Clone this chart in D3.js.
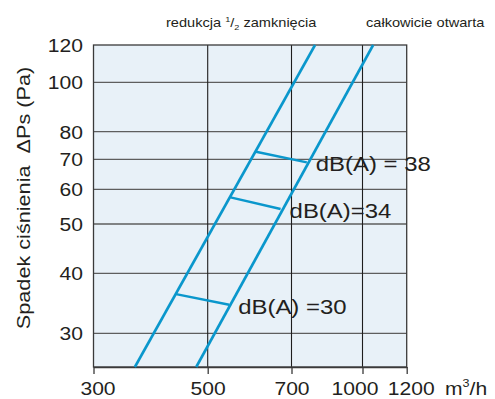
<!DOCTYPE html>
<html>
<head>
<meta charset="utf-8">
<script src="https://cdn.jsdelivr.net/npm/d3@7"></script>
<style>
  html, body { margin: 0; padding: 0; background: #ffffff; }
  svg { display: block; }
  text { font-family: "Liberation Sans", Arial, Helvetica, sans-serif; fill: #231f20; white-space: pre; }
</style>
</head>
<body>
<svg id="chart" width="495" height="399"></svg>
<script>
// ---- data ----
const flowTicks = [300, 500, 700, 1000, 1200];          // m3/h
const pressureTicks = [30, 40, 50, 60, 70, 80, 100, 120]; // Pa
const pressureMin = 25;
const curveNames = ["redukcja 1/2 zamknięcia", "całkowicie otwarta"];
const curveHalfQ = [361, 788];
const curveHalfP = [25, 120];
const curveOpenQ = [475, 1045];
const curveOpenP = [25, 120];
const dbLabels = ["dB(A) = 38", "dB(A)=34", "dB(A) =30"];
const dbFromQ = [607, 548, 434];
const dbFromP = [72.6, 57.5, 36.2];
const dbToQ = [756, 670, 545];
const dbToP = [68.9, 54.1, 34.4];

// ---- layout ----
const svg = d3.select("#chart");
const STRETCH = 1.14;
const x = d3.scaleLog()
  .domain(flowTicks)
  .range([93.5, 207.7, 291.5, 362.5, 406.7]);
const y = d3.scaleLog()
  .domain([pressureMin, 30, 40, 50, 60, 70, 80, 100, 120])
  .range([367, 333.3, 273.3, 224, 189.3, 159.3, 131.7, 82.3, 45]);

const x0 = x(flowTicks[0]), x1 = x(flowTicks[flowTicks.length - 1]);
const yTop = y(pressureTicks[pressureTicks.length - 1]), yBot = y(pressureMin);

// plot background
svg.append("rect")
  .attr("x", x0).attr("y", yTop)
  .attr("width", x1 - x0).attr("height", yBot - yTop)
  .attr("fill", "#e8f1f8");

// horizontal grid
svg.append("g").selectAll("line")
  .data(pressureTicks.slice(0, -1))
  .join("line")
  .attr("x1", x0).attr("x2", x1)
  .attr("y1", d => y(d)).attr("y2", d => y(d))
  .attr("stroke", "#5e5e5e").attr("stroke-width", 1.3);

// vertical grid
svg.append("g").selectAll("line")
  .data(flowTicks.slice(1, -1))
  .join("line")
  .attr("x1", d => x(d)).attr("x2", d => x(d))
  .attr("y1", yTop).attr("y2", yBot)
  .attr("stroke", "#1e1e1e").attr("stroke-width", 1.1);

// frame
svg.append("rect")
  .attr("x", x0).attr("y", yTop)
  .attr("width", x1 - x0).attr("height", yBot - yTop)
  .attr("fill", "none").attr("stroke", "#3a3a3a").attr("stroke-width", 1.3);

// x axis
const labelShift = {300: 4, 500: 0, 700: 0, 1000: -8, 1200: 4};
const gx = svg.append("g")
  .attr("transform", `translate(0,${yBot})`)
  .call(d3.axisBottom(x).tickValues(flowTicks).tickFormat(d3.format("d")).tickSizeInner(7).tickSizeOuter(0));
gx.select(".domain").attr("stroke", "#3a3a3a").attr("stroke-width", 1.3);
gx.selectAll(".tick line").attr("stroke", "#3a3a3a").attr("stroke-width", 1.3);
gx.selectAll(".tick text")
  .attr("font-size", 18.5).attr("font-family", null)
  .attr("y", 0).attr("dy", null)
  .attr("transform", d => `translate(${labelShift[d] || 0},28) scale(${STRETCH},1)`)
  .attr("fill", "#231f20");

// unit label
svg.append("text")
  .attr("transform", `translate(445,395) scale(${STRETCH},1)`)
  .attr("font-size", 18.5)
  .call(t => {
    t.append("tspan").text("m");
    t.append("tspan").text("3").attr("font-size", 11).attr("dy", -8);
    t.append("tspan").text("/h").attr("dy", 8);
  });

// y axis
const gy = svg.append("g")
  .attr("transform", `translate(${x0},0)`)
  .call(d3.axisLeft(y).tickValues(pressureTicks).tickFormat(d3.format("d")).tickSize(0));
gy.select(".domain").remove();
gy.selectAll(".tick text")
  .attr("font-size", 18.5).attr("font-family", null)
  .attr("x", -10.5 / STRETCH).attr("dy", "0.36em")
  .attr("transform", `scale(${STRETCH},1)`)
  .attr("fill", "#231f20");

// y axis title
svg.append("text")
  .attr("transform", `translate(30,198) rotate(-90) scale(${STRETCH},1)`)
  .attr("text-anchor", "middle")
  .attr("font-size", 19)
  .text("Spadek ciśnienia  ΔPs (Pa)");

// curves
const line = d3.line().x(d => x(d[0])).y(d => y(d[1]));
const curves = [d3.zip(curveHalfQ, curveHalfP), d3.zip(curveOpenQ, curveOpenP)];
svg.append("g").selectAll("path")
  .data(curves)
  .join("path")
  .attr("d", line)
  .attr("fill", "none")
  .attr("stroke", "#0a97cc")
  .attr("stroke-width", 2.6);

// dB connectors
const dbData = dbLabels.map((lab, i) => ({
  lab, a: [dbFromQ[i], dbFromP[i]], b: [dbToQ[i], dbToP[i]]
}));
svg.append("g").selectAll("line")
  .data(dbData)
  .join("line")
  .attr("x1", d => x(d.a[0])).attr("y1", d => y(d.a[1]))
  .attr("x2", d => x(d.b[0])).attr("y2", d => y(d.b[1]))
  .attr("stroke", "#0a97cc").attr("stroke-width", 2.4);

svg.append("g").selectAll("text")
  .data(dbData)
  .join("text")
  .attr("transform", d => `translate(${x(d.b[0]) + 9},${y(d.b[1]) + 9}) scale(${STRETCH},1)`)
  .attr("font-size", 21)
  .text(d => d.lab);

// curve titles on top
svg.append("text")
  .attr("transform", `translate(166,27) scale(${STRETCH},1)`)
  .attr("font-size", 12.8)
  .call(t => {
    t.append("tspan").text("redukcja ");
    t.append("tspan").text("1").attr("font-size", 8).attr("dy", -5);
    t.append("tspan").text("/").attr("dy", 5);
    t.append("tspan").text("2").attr("font-size", 8).attr("dy", 3);
    t.append("tspan").text(" zamknięcia").attr("dy", -3);
  });
svg.append("text")
  .attr("transform", `translate(366,27) scale(${STRETCH},1)`)
  .attr("font-size", 12.8)
  .text(curveNames[1]);
</script>
</body>
</html>
